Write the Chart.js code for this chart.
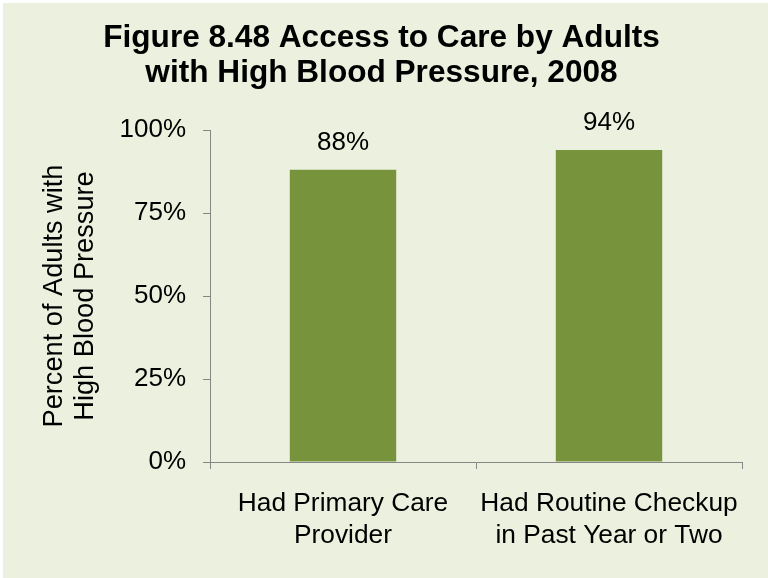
<!DOCTYPE html>
<html>
<head>
<meta charset="utf-8">
<script src="https://cdn.jsdelivr.net/npm/chart.js@4.4.1/dist/chart.umd.min.js"></script>
<style>
  html, body { margin: 0; padding: 0; background: #ffffff; }
  canvas { display: block; }
</style>
</head>
<body>
<canvas id="accessChart" width="768" height="578"></canvas>
<script>
// Data
const categories = [['Had Primary Care', 'Provider'], ['Had Routine Checkup', 'in Past Year or Two']];
const percentValues = [88, 94];
const yTicks = [0, 25, 50, 75, 100];

const FONT = '"Liberation Sans", Arial, sans-serif';

// light olive panel with a thin white strip on the top and left
const panelBackground = {
    id: 'panelBackground',
    beforeDraw(chart) {
        const ctx = chart.ctx;
        ctx.save();
        ctx.fillStyle = '#ffffff';
        ctx.fillRect(0, 0, chart.width, chart.height);
        ctx.fillStyle = '#EBF1DE';
        ctx.fillRect(3, 3, chart.width - 3, chart.height - 3);
        ctx.restore();
    }
};

// value labels above each bar
const barValueLabels = {
    id: 'barValueLabels',
    afterDatasetsDraw(chart) {
        const ctx = chart.ctx;
        const meta = chart.getDatasetMeta(0);
        ctx.save();
        ctx.font = '26px ' + FONT;
        ctx.fillStyle = '#000000';
        ctx.textAlign = 'center';
        ctx.textBaseline = 'middle';
        meta.data.forEach((bar, i) => {
            ctx.fillText(percentValues[i] + '%', bar.x, bar.y - 27);
        });
        ctx.restore();
    }
};

const ctx = document.getElementById('accessChart').getContext('2d');
new Chart(ctx, {
    type: 'bar',
    data: {
        labels: categories,
        datasets: [{
            data: percentValues,
            backgroundColor: '#77933C',
            borderWidth: 0,
            barPercentage: 0.4,
            categoryPercentage: 1.0
        }]
    },
    options: {
        responsive: false,
        animation: false,
        layout: {
            padding: { top: 0, left: 3, right: 8, bottom: 26 }
        },
        plugins: {
            legend: { display: false },
            tooltip: { enabled: false },
            title: {
                display: true,
                text: ['Figure 8.48 Access to Care by Adults', 'with High Blood Pressure, 2008'],
                color: '#000000',
                font: { family: FONT, size: 31.6, weight: 'bold', lineHeight: '35px' },
                padding: { top: 21, bottom: 39 }
            }
        },
        scales: {
            x: {
                afterFit(scale) { scale.height = 90; },
                grid: {
                    offset: true,
                    drawOnChartArea: false,
                    drawTicks: true,
                    tickLength: 7,
                    color: '#868686'
                },
                border: { display: true, color: '#868686', width: 1 },
                ticks: {
                    color: '#000000',
                    padding: 19,
                    maxRotation: 0,
                    font: { family: FONT, size: 26.3, lineHeight: '32px' }
                }
            },
            y: {
                min: 0,
                max: 100,
                afterFit(scale) { scale.width = 207; },
                afterBuildTicks(scale) { scale.ticks = yTicks.map(v => ({ value: v })); },
                grid: {
                    drawOnChartArea: false,
                    drawTicks: true,
                    tickLength: 7,
                    color: '#868686'
                },
                border: { display: true, color: '#868686', width: 1 },
                ticks: {
                    color: '#000000',
                    padding: 17,
                    font: { family: FONT, size: 26 },
                    callback: value => value + '%'
                },
                title: {
                    display: true,
                    text: ['Percent of Adults with', 'High Blood Pressure'],
                    color: '#000000',
                    font: { family: FONT, size: 27.2, lineHeight: '31px' },
                    padding: { top: 36, bottom: 0 }
                }
            },
            // empty right-hand spacer so the title sits centred like the original
            spacer: {
                type: 'linear',
                position: 'right',
                afterFit(scale) { scale.width = 18; },
                grid: { display: false },
                border: { display: false },
                ticks: { display: false }
            }
        }
    },
    plugins: [panelBackground, barValueLabels]
});
</script>
</body>
</html>
